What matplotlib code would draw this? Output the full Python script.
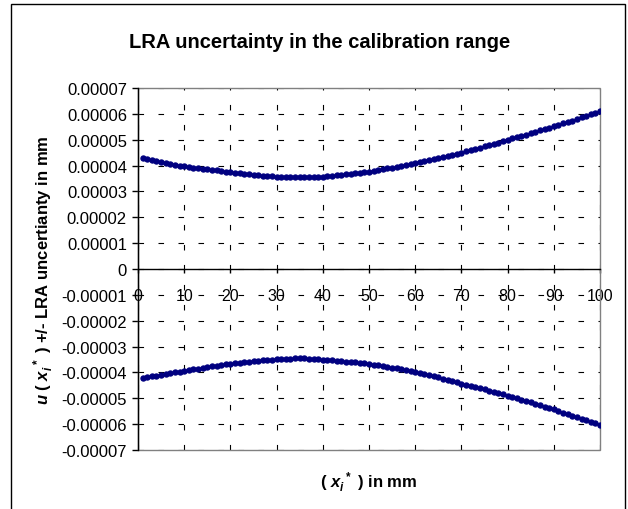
import matplotlib
matplotlib.use('Agg')
import matplotlib.pyplot as plt
from matplotlib.patches import Rectangle
import numpy as np

plt.rcParams['font.family'] = ['Liberation Sans', 'DejaVu Sans']
plt.rcParams['mathtext.fontset'] = 'custom'
plt.rcParams['mathtext.it'] = 'Liberation Sans:bold:italic'
plt.rcParams['mathtext.rm'] = 'Liberation Sans:bold'
plt.rcParams['mathtext.bf'] = 'Liberation Sans:bold'

# positions along the calibration range (mm)
x_mm = list(range(1, 101))

# upper band, in units of 1e-5 mm
upper = [4.29, 4.25, 4.21, 4.17, 4.13, 4.10, 4.07, 4.03, 4.00, 3.97,
         3.95, 3.92, 3.90, 3.87, 3.85, 3.83, 3.81, 3.79, 3.77, 3.75,
         3.73, 3.71, 3.69, 3.67, 3.65, 3.63, 3.61, 3.60, 3.58, 3.57,
         3.56, 3.55, 3.55, 3.54, 3.54, 3.54, 3.55, 3.55, 3.56, 3.57,
         3.59, 3.60, 3.62, 3.64, 3.66, 3.68, 3.70, 3.72, 3.74, 3.77,
         3.80, 3.83, 3.86, 3.89, 3.92, 3.96, 3.99, 4.03, 4.06, 4.10,
         4.14, 4.18, 4.22, 4.26, 4.30, 4.34, 4.38, 4.42, 4.46, 4.50,
         4.55, 4.60, 4.64, 4.69, 4.74, 4.79, 4.84, 4.89, 4.95, 5.00,
         5.05, 5.10, 5.15, 5.20, 5.25, 5.31, 5.36, 5.41, 5.47, 5.52,
         5.58, 5.63, 5.69, 5.74, 5.80, 5.86, 5.92, 5.98, 6.04, 6.10]

# lower band, in units of 1e-5 mm
lower = [-4.21, -4.18, -4.15, -4.12, -4.09, -4.06, -4.03, -4.00, -3.97, -3.94,
         -3.91, -3.88, -3.85, -3.82, -3.79, -3.77, -3.74, -3.72, -3.69, -3.67,
         -3.65, -3.63, -3.61, -3.59, -3.57, -3.55, -3.53, -3.52, -3.50, -3.49,
         -3.48, -3.47, -3.47, -3.46, -3.46, -3.46, -3.47, -3.48, -3.49, -3.51,
         -3.52, -3.53, -3.55, -3.56, -3.58, -3.59, -3.61, -3.63, -3.65, -3.67,
         -3.70, -3.72, -3.75, -3.78, -3.81, -3.84, -3.87, -3.91, -3.94, -3.98,
         -4.02, -4.06, -4.10, -4.15, -4.19, -4.24, -4.28, -4.33, -4.38, -4.43,
         -4.48, -4.52, -4.57, -4.62, -4.66, -4.71, -4.76, -4.81, -4.85, -4.90,
         -4.95, -5.00, -5.06, -5.11, -5.16, -5.21, -5.27, -5.32, -5.38, -5.43,
         -5.49, -5.55, -5.61, -5.67, -5.73, -5.79, -5.85, -5.91, -5.97, -6.03]

x_ticks = list(range(0, 101, 10))
y_ticks = [-0.00007, -0.00006, -0.00005, -0.00004, -0.00003, -0.00002, -0.00001,
           0, 0.00001, 0.00002, 0.00003, 0.00004, 0.00005, 0.00006, 0.00007]
y_ticklabels = ['-0.00007', '-0.00006', '-0.00005', '-0.00004', '-0.00003',
                '-0.00002', '-0.00001', '0', '0.00001', '0.00002', '0.00003',
                '0.00004', '0.00005', '0.00006', '0.00007']

up = np.array(upper) * 1e-5
lo = np.array(lower) * 1e-5

fig = plt.figure(figsize=(6.28, 5.10), dpi=100)
ax = fig.add_axes([138/628, 1 - 451/510, 462/628, 362/510])

for series in (up, lo):
    ax.plot(x_mm, series, color='#ff00ff', lw=1.0, zorder=3)
    ax.plot(x_mm, series, 'o', color='#000080', ms=3.6, mec='#000080', zorder=4)

ax.set_xlim(0, 100)
ax.set_ylim(-0.00007, 0.00007)
ax.set_xticks(x_ticks)
ax.set_yticks(y_ticks)
ax.set_yticklabels(y_ticklabels)

ax.grid(True, color='black', lw=0.8, linestyle=(0, (5, 13)))
ax.set_axisbelow(True)

ax.spines['bottom'].set_position(('data', 0))
ax.spines['top'].set_visible(False)
ax.spines['right'].set_visible(False)
ax.spines['left'].set_linewidth(1.0)
ax.spines['bottom'].set_linewidth(1.0)
ax.add_patch(Rectangle((0, 0), 1, 1, transform=ax.transAxes, fill=False,
                       ec='#808080', lw=1.0, zorder=1, clip_on=False))

ax.tick_params(axis='y', direction='out', length=4, width=1, pad=4, labelsize=12)
ax.tick_params(axis='x', direction='out', length=3, width=1, pad=10.5, labelsize=11.5)

fig.text(320/628, 1 - 42/510, 'LRA uncertainty in the calibration range',
         ha='center', va='center', fontsize=14.5, fontweight='bold')
fig.text(369/628, 1 - 483/510, r'( $x_{i}^{\ *}$ ) in mm',
         ha='center', va='center', fontsize=12, fontweight='bold')
fig.text(44/628, 1 - 270/510, r'$u$ ( $x_{i}^{\ *}$ ) +/- LRA uncertianty in mm',
         ha='center', va='center', rotation=90, fontsize=12, fontweight='bold')

fig.add_artist(Rectangle((11/628, -0.02), 614/628, 1 - 5/510 + 0.02,
                         transform=fig.transFigure, fill=False, ec='black', lw=1.0))

fig.savefig('out.png', dpi=100)
